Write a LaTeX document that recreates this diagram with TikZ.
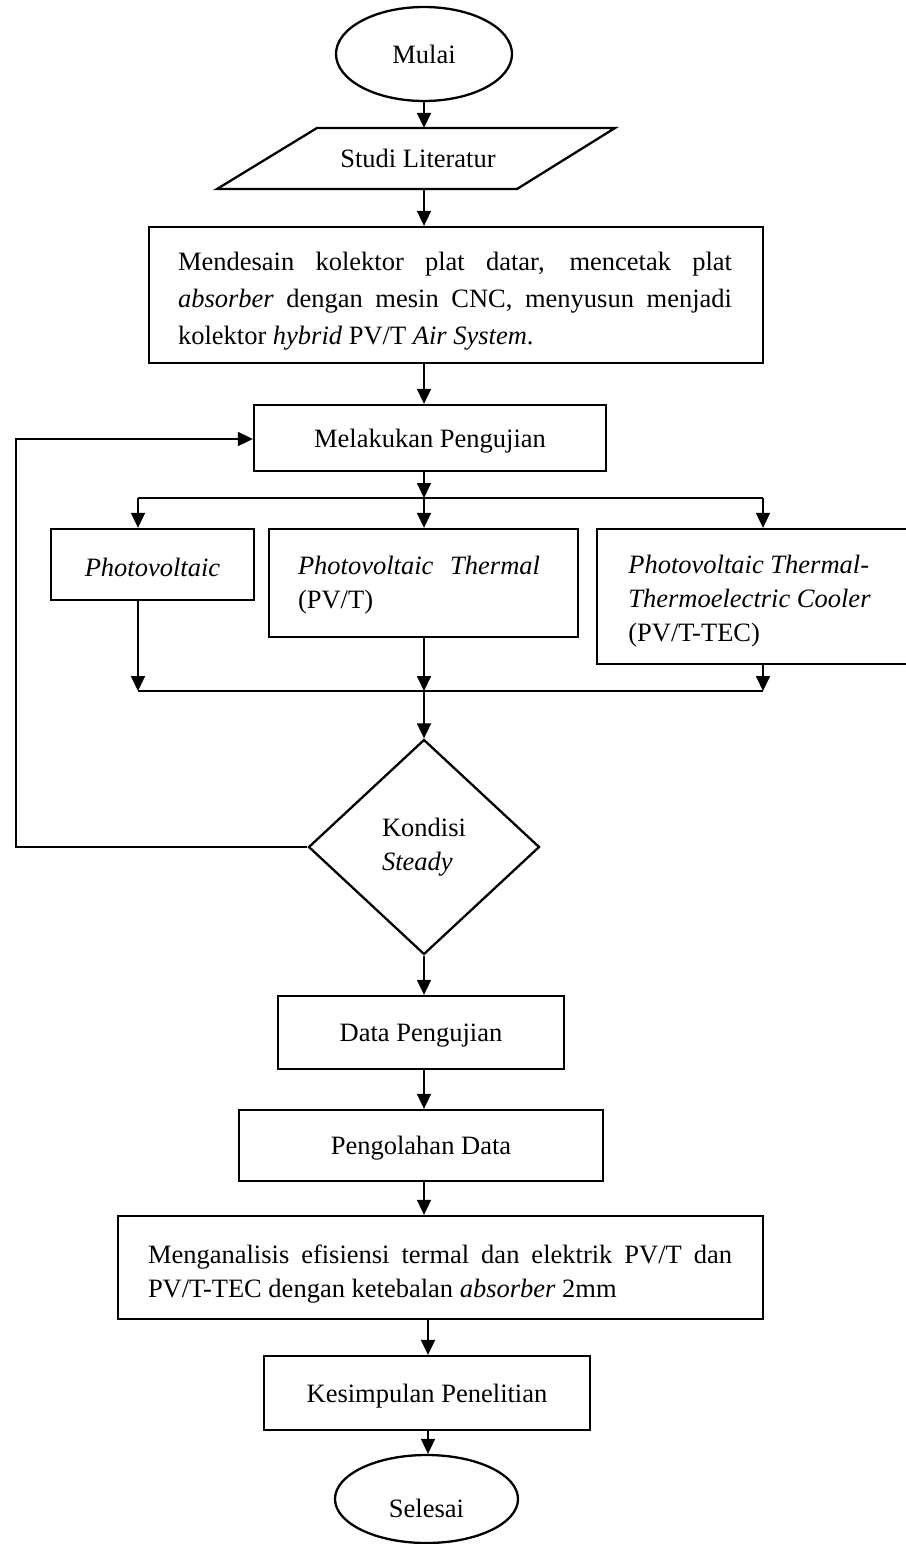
\documentclass[tikz,border=0pt]{standalone}
\usepackage{fontspec}
\setmainfont{Liberation Serif}
\usetikzlibrary{shapes.geometric,arrows.meta}
\begin{document}
\begin{tikzpicture}[x=1pt,y=-1pt,
  every node/.style={font=\fontsize{26.5}{34}\selectfont},
  boxst/.style={draw, line width=2.3pt, rectangle, inner sep=0pt},
  ellst/.style={draw, line width=2.3pt, ellipse, inner sep=0pt},
  diast/.style={draw, line width=2.3pt, diamond, inner sep=0pt},
  arr/.style={line width=1.8pt, -{Triangle[length=15pt,width=14pt]}},
  ln/.style={line width=1.8pt}]
\useasboundingbox (0,0) rectangle (905,1544);

% column x positions
\coordinate (cx) at (424,0);
\coordinate (cx2) at (428,0);

% nodes
\node[ellst, minimum width=176pt, minimum height=94pt] (mulai) at (424,54) {Mulai};

\node[inner sep=0pt, minimum height=61pt] (studi) at (418,158.5) {Studi Literatur};
\draw[line width=2.3pt] (217,189) -- (317,128) -- (615,128) -- (517,189) -- cycle;

\node[boxst, minimum width=614pt, minimum height=136pt] (desain) at (456,295) {};
\node[align=left, inner sep=0pt, font=\fontsize{26.5}{37}\selectfont] (desaintxt) at (455,301)
 {\makebox[554pt][s]{Mendesain kolektor plat datar, mencetak plat}\\
  \makebox[554pt][s]{\textit{absorber} dengan mesin CNC, menyusun menjadi}\\
  kolektor \textit{hybrid} PV/T \textit{Air System}.};

\node[boxst, minimum width=352pt, minimum height=66pt] (uji) at (430,438) {};
\node[inner sep=0pt] (ujitxt) at (430,441) {Melakukan Pengujian};

\node[boxst, minimum width=203pt, minimum height=71pt] (pv) at (152.5,564.5) {};
\node[inner sep=0pt] (pvtxt) at (152.5,567) {\textit{Photovoltaic}};
\node[boxst, minimum width=309pt, minimum height=108pt] (pvt) at (423.5,583) {};
\node[align=left, inner sep=0pt] (pvttxt) at (419,585)
 {\makebox[242pt][s]{\textit{Photovoltaic Thermal}}\\(PV/T)};
\node[boxst, minimum width=318pt, minimum height=135pt] (tec) at (756,596.5) {};
\node[align=left, inner sep=0pt] (tectext) at (749.5,601)
 {\textit{Photovoltaic Thermal-}\\\textit{Thermoelectric Cooler}\\(PV/T-TEC)};

\node[diast, minimum width=231pt, minimum height=215pt, align=left] (kondisi) at (424,847)
 {Kondisi\\\textit{Steady}};

\node[boxst, minimum width=286pt, minimum height=73pt] (data) at (421,1032.5) {};
\node[inner sep=0pt] (datatxt) at (421,1036) {Data Pengujian};
\node[boxst, minimum width=364pt, minimum height=71pt] (olah) at (421,1145.5) {};
\node[inner sep=0pt] (olahtxt) at (421,1148) {Pengolahan Data};
\node[boxst, minimum width=645pt, minimum height=103pt] (analisis) at (440.5,1267.5) {};
\node[align=left, inner sep=0pt] (analisistxt) at (440,1274)
 {\makebox[584pt][s]{Menganalisis efisiensi termal dan elektrik PV/T dan}\\
  PV/T-TEC dengan ketebalan \textit{absorber} 2mm};
\node[boxst, minimum width=326pt, minimum height=74pt] (simpul) at (427,1393) {};
\node[inner sep=0pt] (simpultxt) at (427,1396) {Kesimpulan Penelitian};
\node[ellst, minimum width=183pt, minimum height=88pt] (selesai) at (426.5,1499) {};
\node[inner sep=0pt] (selesaitxt) at (426.5,1508) {Selesai};

% junction coordinates
\coordinate (j1) at (424,498);
\coordinate (jL) at (138,498);
\coordinate (jR) at (763,498);
\coordinate (k1) at (424,691);
\coordinate (kL) at (138,691);
\coordinate (kR) at (763,691);
\coordinate (fb) at (16,439);

% connectors
\draw[arr] (mulai.south -| cx) -- (studi.north -| cx);
\draw[arr] (studi.south -| cx) -- (desain.north -| cx);
\draw[arr] (desain.south -| cx) -- (uji.north -| cx);
\draw[arr] (uji.south -| j1) -- (j1);
\draw[ln] (jL) -- (jR);
\draw[arr] (jL) -- (jL |- pv.north);
\draw[arr] (j1) -- (j1 |- pvt.north);
\draw[arr] (jR) -- (jR |- tec.north);
\draw[arr] (pv.south -| kL) -- (kL);
\draw[arr] (pvt.south -| k1) -- (k1);
\draw[arr] (tec.south -| kR) -- (kR);
\draw[ln] (kL) -- (kR);
\draw[arr] (k1) -- (kondisi.north);
\draw[arr] (kondisi.west) -- (kondisi.west -| fb) -- (fb) -- (fb -| uji.west);
\draw[arr] (kondisi.south) -- (data.north -| kondisi.south);
\draw[arr] (data.south -| cx) -- (olah.north -| cx);
\draw[arr] (olah.south -| cx) -- (analisis.north -| cx);
\draw[arr] (analisis.south -| cx2) -- (simpul.north -| cx2);
\draw[arr] (simpul.south -| cx2) -- (selesai.north -| cx2);
\end{tikzpicture}
\end{document}
